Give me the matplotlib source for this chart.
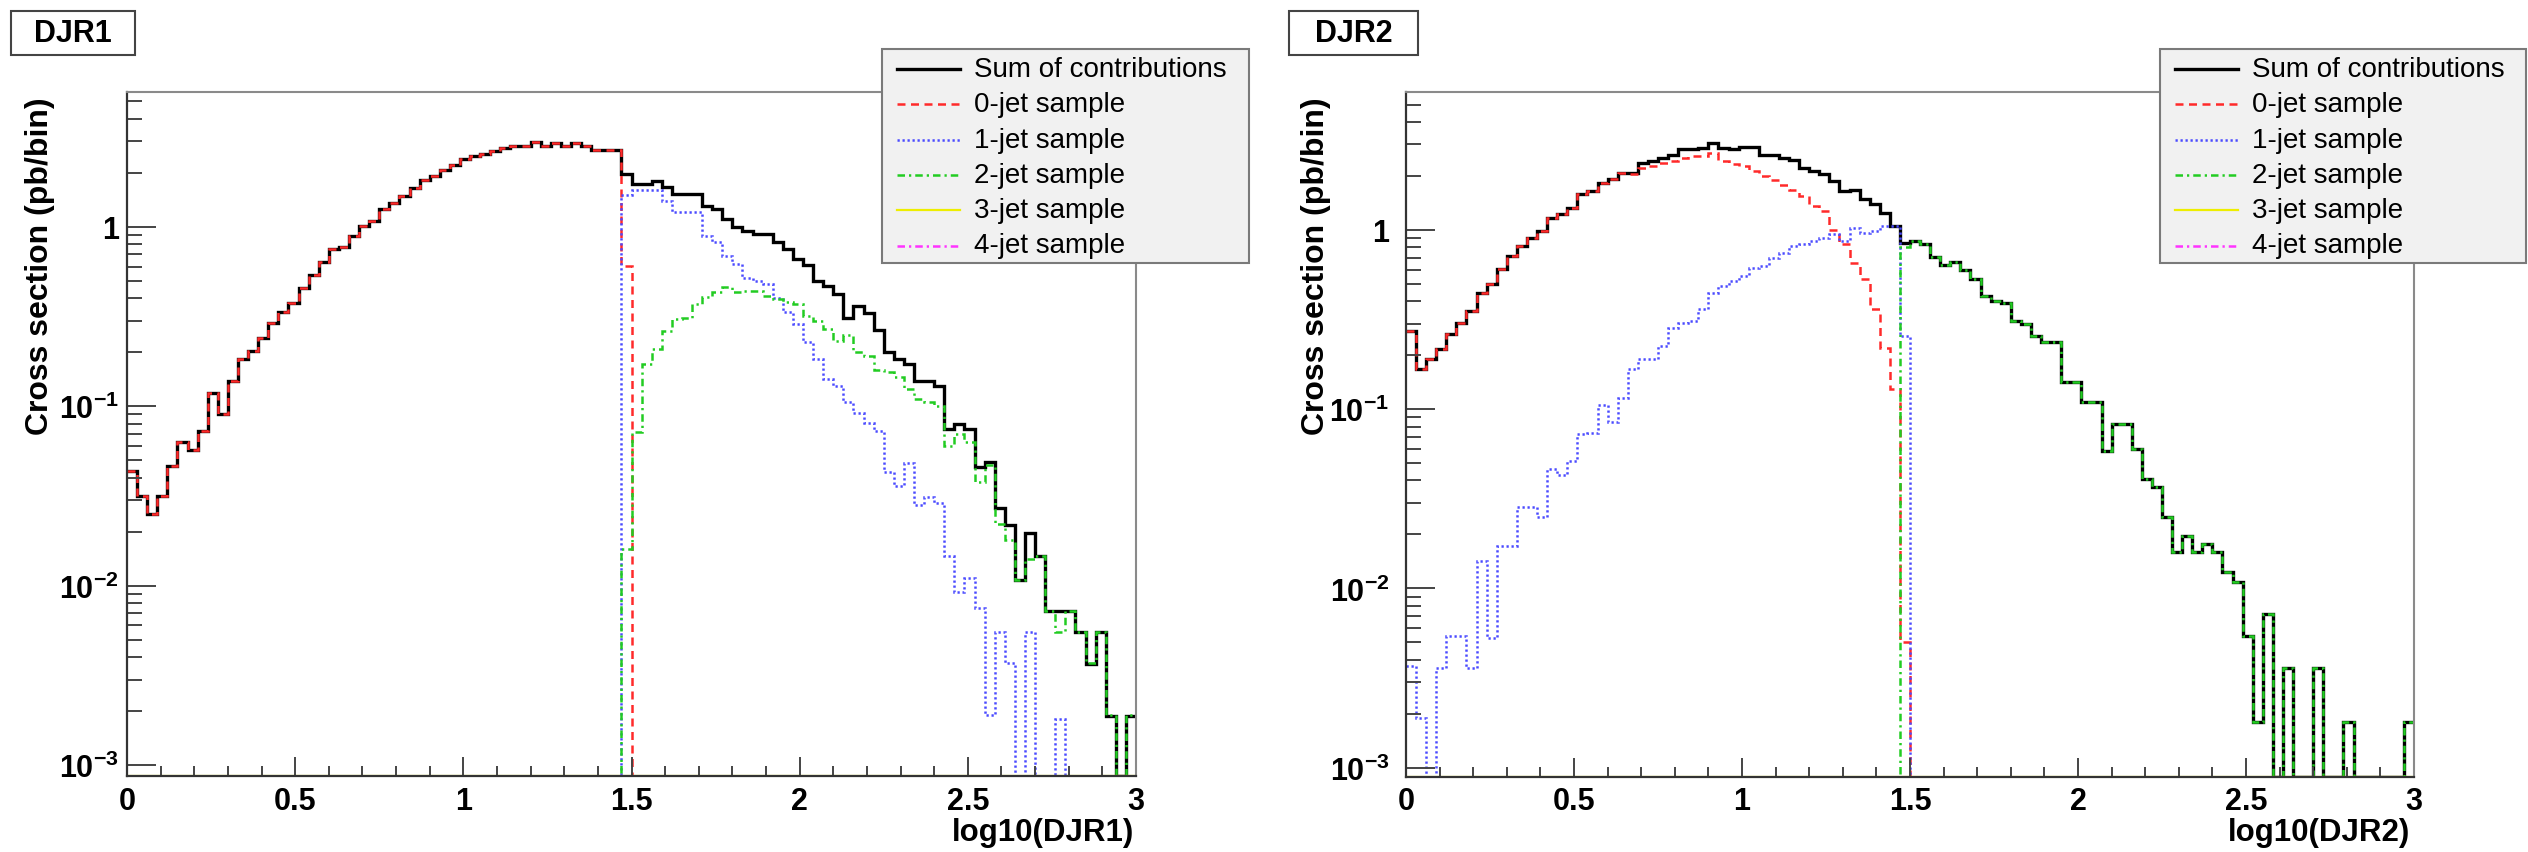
import numpy as np
import matplotlib
matplotlib.use("Agg")
import matplotlib.pyplot as plt
from matplotlib.patches import Rectangle
from matplotlib.lines import Line2D
from matplotlib.ticker import FixedLocator, FuncFormatter, NullFormatter

# ---------------- data (cross section per bin, pb) ----------------
bin_edges = np.linspace(0.0, 3.0, 101)   # 100 bins of log10(DJR)

djr1_sum = [
    0.0436, 0.0316, 0.025, 0.0316, 0.0465, 0.063, 0.057, 0.073, 0.119, 0.090,
    0.138, 0.182, 0.202, 0.240, 0.290, 0.336, 0.374, 0.453, 0.536, 0.636,
    0.753, 0.769, 0.892, 1.01, 1.08, 1.25, 1.36, 1.48, 1.65, 1.83,
    1.91, 2.08, 2.22, 2.37, 2.47, 2.55, 2.63, 2.75, 2.80, 2.83,
    2.95, 2.80, 2.92, 2.80, 2.92, 2.80, 2.69, 2.69, 2.69, 1.97,
    1.73, 1.73, 1.80, 1.66, 1.52, 1.52, 1.52, 1.31, 1.25, 1.10,
    0.99, 0.95, 0.91, 0.91, 0.82, 0.75, 0.66, 0.61, 0.50, 0.47,
    0.42, 0.31, 0.36, 0.33, 0.264, 0.20, 0.183, 0.171, 0.138, 0.138,
    0.129, 0.0746, 0.0796, 0.0746, 0.0459, 0.0489, 0.0270, 0.0218, 0.0108, 0.0196,
    0.0146, 0.00724, 0.00724, 0.00724, 0.0055, 0.00368, 0.0055, 0.00187, 0.0, 0.00187]

djr1_0jet = [
    0.0436, 0.0316, 0.025, 0.0316, 0.0465, 0.063, 0.057, 0.073, 0.119, 0.090,
    0.138, 0.182, 0.202, 0.240, 0.290, 0.336, 0.374, 0.453, 0.536, 0.636,
    0.753, 0.769, 0.892, 1.01, 1.08, 1.25, 1.36, 1.48, 1.65, 1.83,
    1.91, 2.08, 2.22, 2.37, 2.47, 2.55, 2.63, 2.75, 2.80, 2.83,
    2.95, 2.80, 2.92, 2.80, 2.92, 2.80, 2.69, 2.69, 2.69, 0.607] + [0.0] * 50

djr1_1jet = [0.0] * 49 + [
    1.50,
    1.61, 1.61, 1.61, 1.39, 1.20, 1.20, 1.20, 0.89, 0.82, 0.69,
    0.62, 0.52, 0.50, 0.48, 0.40, 0.335, 0.287, 0.227, 0.183, 0.142,
    0.13, 0.105, 0.092, 0.081, 0.073, 0.043, 0.036, 0.048, 0.028, 0.031,
    0.029, 0.0146, 0.0092, 0.0111, 0.0075, 0.0019, 0.0055, 0.0037, 0.0, 0.0055,
    0.0, 0.0, 0.0018, 0.0, 0.0, 0.0, 0.0, 0.0, 0.0, 0.0]

djr1_2jet = [0.0] * 49 + [
    0.016,
    0.072, 0.172, 0.208, 0.263, 0.306, 0.31, 0.371, 0.404, 0.43, 0.46,
    0.43, 0.44, 0.44, 0.41, 0.395, 0.38, 0.37, 0.32, 0.30, 0.27,
    0.23, 0.25, 0.20, 0.19, 0.16, 0.155, 0.145, 0.125, 0.11, 0.105,
    0.10, 0.060, 0.070, 0.063, 0.038, 0.047, 0.022, 0.018, 0.0108, 0.0141,
    0.0146, 0.0072, 0.0055, 0.0072, 0.0055, 0.0037, 0.0055, 0.0019, 0.0, 0.0019]

djr1_3jet = [0.0] * 100
djr1_4jet = [0.0] * 100

djr2_sum = [
    0.273, 0.167, 0.190, 0.216, 0.262, 0.304, 0.353, 0.447, 0.497, 0.603,
    0.715, 0.812, 0.905, 0.985, 1.17, 1.22, 1.33, 1.58, 1.64, 1.83,
    1.93, 2.08, 2.08, 2.37, 2.42, 2.52, 2.63, 2.83, 2.83, 2.87,
    3.06, 2.87, 2.81, 2.90, 2.90, 2.63, 2.63, 2.52, 2.47, 2.22,
    2.13, 2.04, 1.87, 1.64, 1.67, 1.48, 1.39, 1.25, 1.05, 0.85,
    0.866, 0.83, 0.71, 0.64, 0.66, 0.60, 0.53, 0.43, 0.40, 0.39,
    0.31, 0.30, 0.256, 0.236, 0.236, 0.141, 0.141, 0.11, 0.11, 0.0586,
    0.0825, 0.0825, 0.060, 0.0408, 0.0368, 0.025, 0.0159, 0.0197, 0.0159, 0.0177,
    0.0159, 0.0123, 0.0109, 0.0054, 0.0018, 0.0072, 0.0, 0.0036, 0.0, 0.0,
    0.0036, 0.0, 0.0, 0.0018, 0.0, 0.0, 0.0, 0.0, 0.0, 0.0018]

djr2_0jet = [
    0.273, 0.167, 0.190, 0.216, 0.262, 0.304, 0.353, 0.447, 0.497, 0.603,
    0.715, 0.812, 0.905, 0.985, 1.17, 1.22, 1.33, 1.58, 1.64, 1.83,
    1.93, 2.08, 2.05, 2.22, 2.27, 2.37, 2.42, 2.52, 2.58, 2.60,
    2.69, 2.42, 2.32, 2.27, 2.13, 1.99, 1.91, 1.79, 1.68, 1.55,
    1.36, 1.27, 1.00, 0.83, 0.656, 0.53, 0.36, 0.22, 0.13, 0.005] + [0.0] * 50

djr2_1jet = [
    0.0037, 0.0019, 0.0, 0.0036, 0.0054, 0.0054, 0.0036, 0.0143, 0.0053, 0.0173,
    0.0173, 0.0284, 0.0284, 0.025, 0.0465, 0.0427, 0.0517, 0.0728, 0.074, 0.105,
    0.0847, 0.115, 0.167, 0.19, 0.19, 0.225, 0.285, 0.304, 0.31, 0.36,
    0.447, 0.486, 0.52, 0.55, 0.615, 0.63, 0.70, 0.746, 0.81, 0.83,
    0.866, 0.905, 0.95, 0.866, 1.03, 0.965, 0.98, 1.05, 1.05, 0.256] + [0.0] * 50

djr2_2jet = [0.0] * 49 + [
    0.80,
    0.866, 0.83, 0.71, 0.64, 0.66, 0.60, 0.53, 0.43, 0.40, 0.39,
    0.31, 0.30, 0.256, 0.236, 0.236, 0.141, 0.141, 0.11, 0.11, 0.0586,
    0.0825, 0.0825, 0.060, 0.0408, 0.0368, 0.025, 0.0159, 0.0197, 0.0159, 0.0177,
    0.0159, 0.0123, 0.0109, 0.0054, 0.0018, 0.0072, 0.0, 0.0036, 0.0, 0.0,
    0.0036, 0.0, 0.0, 0.0018, 0.0, 0.0, 0.0, 0.0, 0.0, 0.0018]

djr2_3jet = [0.0] * 100
djr2_4jet = [0.0] * 100

series_labels = ["Sum of contributions", "0-jet sample", "1-jet sample",
                 "2-jet sample", "3-jet sample", "4-jet sample"]
x_tick_values = [0, 0.5, 1, 1.5, 2, 2.5, 3]
x_tick_labels = ["0", "0.5", "1", "1.5", "2", "2.5", "3"]

# ---------------- styling ----------------
W, H = 2528, 853
plt.rcParams["font.family"] = ["Liberation Sans", "DejaVu Sans"]
plt.rcParams["mathtext.fontset"] = "custom"
plt.rcParams["mathtext.rm"] = "Liberation Sans"
plt.rcParams["mathtext.bf"] = "Liberation Sans:bold"

styles = [
    dict(color="#000000", lw=2.4, ls="-"),
    dict(color="#ff2a2a", lw=1.8, ls=(0, (3.2, 2.2))),
    dict(color="#4a4aff", lw=1.8, ls=(0, (0.9, 1.1))),
    dict(color="#22cc22", lw=1.8, ls=(0, (3.0, 1.6, 0.9, 1.6))),
    dict(color="#eeee00", lw=1.6, ls="-"),
    dict(color="#ff33ff", lw=1.8, ls=(0, (3.0, 1.6, 0.9, 1.6))),
]

fig = plt.figure(figsize=(W / 100, H / 100), dpi=100)
fig.patch.set_facecolor("white")


def px_axes(x0, y0, x1, y1):
    return [x0 / W, 1 - y1 / H, (x1 - x0) / W, (y1 - y0) / H]


def ylab(v, pos):
    e = int(round(np.log10(v)))
    if e == 0:
        return "1"
    return r"$\mathbf{10^{%d}}$" % e


panels = [
    dict(rect=(127, 92.7, 1136, 777), ylim=(8.7e-4, 5.65),
         data=[djr1_sum, djr1_0jet, djr1_1jet, djr1_2jet, djr1_3jet, djr1_4jet],
         title="DJR1", tbox=(11, 12, 135, 56), xlabel="log10(DJR1)",
         xlab_right=1134, ylab_x=40, ypad=6, legbox=(882, 50, 1249, 264)),
    dict(rect=(1406, 93, 2414, 777.7), ylim=(8.9e-4, 5.88),
         data=[djr2_sum, djr2_0jet, djr2_1jet, djr2_2jet, djr2_3jet, djr2_4jet],
         title="DJR2", tbox=(1289, 12, 1418, 56), xlabel="log10(DJR2)",
         xlab_right=2410, ylab_x=1316, ypad=12, legbox=(2160, 50, 2526, 264)),
]

for p in panels:
    ax = fig.add_axes(px_axes(*p["rect"]))
    ax.set_yscale("log")
    ymin, ymax = p["ylim"]
    ax.set_xlim(0, 3)
    ax.set_ylim(ymin, ymax)

    for vals, st in zip(p["data"], styles):
        v = np.asarray(vals, dtype=float)
        v = np.where(v > 0, v, ymin)       # empty bins drawn on the frame bottom
        ax.stairs(v, bin_edges, baseline=None, fill=False,
                  edgecolor=st["color"], linewidth=st["lw"], linestyle=st["ls"])

    # spines
    for side in ("top", "right"):
        ax.spines[side].set_color("#8a8a8a")
        ax.spines[side].set_linewidth(1.5)
        ax.spines[side].set_zorder(5)
    for side in ("left", "bottom"):
        ax.spines[side].set_color("#333333")
        ax.spines[side].set_linewidth(1.6)
        ax.spines[side].set_zorder(5)

    # ticks
    ax.xaxis.set_major_locator(FixedLocator(x_tick_values))
    ax.xaxis.set_major_formatter(FuncFormatter(
        lambda v, pos: x_tick_labels[pos] if pos is not None and pos < len(x_tick_labels) else ""))
    ax.xaxis.set_minor_locator(FixedLocator(np.arange(0, 3.001, 0.1)))
    ax.yaxis.set_major_locator(FixedLocator([1e-3, 1e-2, 1e-1, 1.0]))
    ax.yaxis.set_major_formatter(FuncFormatter(ylab))
    minors = [k * 10.0 ** d for d in range(-3, 1) for k in range(2, 10)]
    ax.yaxis.set_minor_locator(FixedLocator([m for m in minors if m < ymax]))
    ax.yaxis.set_minor_formatter(NullFormatter())

    ax.tick_params(axis="both", which="both", direction="in", top=False, right=False,
                   color="#444444", width=1.4)
    ax.tick_params(axis="y", which="major", length=21, pad=p["ypad"], labelsize=22)
    ax.tick_params(axis="y", which="minor", length=11)
    ax.tick_params(axis="x", which="major", length=14, pad=7, labelsize=22)
    ax.tick_params(axis="x", which="minor", length=7)
    for lab in ax.get_xticklabels() + ax.get_yticklabels():
        lab.set_fontweight("bold")

    # axis titles
    fig.text(p["ylab_x"] / W, 1 - 97 / H, "Cross section (pb/bin)", rotation=90,
             rotation_mode="anchor", ha="right", va="center",
             fontsize=23, fontweight="bold")
    fig.text(p["xlab_right"] / W, 1 - 833 / H, p["xlabel"], ha="right", va="center",
             fontsize=22.5, fontweight="bold")

    # title box
    tx0, ty0, tx1, ty1 = p["tbox"]
    fig.add_artist(Rectangle((tx0 / W, 1 - ty1 / H), (tx1 - tx0) / W, (ty1 - ty0) / H,
                             transform=fig.transFigure, facecolor="white",
                             edgecolor="#444444", linewidth=1.5))
    fig.text((tx0 + tx1) / 2 / W, 1 - (ty0 + ty1) / 2 / H, p["title"],
             ha="center", va="center", fontsize=22, fontweight="bold")

    # legend box
    lx0, ly0, lx1, ly1 = p["legbox"]
    fig.add_artist(Rectangle((lx0 / W, 1 - ly1 / H), (lx1 - lx0) / W, (ly1 - ly0) / H,
                             transform=fig.transFigure, facecolor="#f1f1f1",
                             edgecolor="#7a7a7a", linewidth=1.5, zorder=10))
    for i, (lab, st) in enumerate(zip(series_labels, styles)):
        yy = 1 - (70 + 35.3 * i) / H
        fig.add_artist(Line2D([(lx0 + 15) / W, (lx0 + 78) / W], [yy, yy],
                              transform=fig.transFigure, color=st["color"],
                              linewidth=st["lw"], linestyle=st["ls"], zorder=11))
        fig.text((lx0 + 92) / W, yy, lab, ha="left", va="center", fontsize=20,
                 fontweight="normal", zorder=11)

fig.savefig("out.png", dpi=100, facecolor="white")
